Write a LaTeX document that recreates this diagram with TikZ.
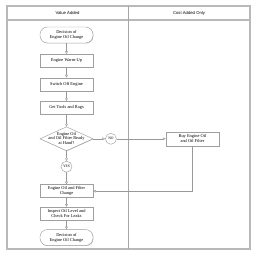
\documentclass[tikz,border=0pt]{standalone}
\usepackage{fontspec}
\setmainfont{Liberation Serif}
\newfontfamily\headfont{Liberation Sans}
\usetikzlibrary{arrows.meta, positioning, shapes.geometric, shadows}

\begin{document}
\begin{tikzpicture}[
  x=0.04cm, y=0.04cm,
  lane/.style={draw=gray!55, line width=1.4pt},
  divider/.style={draw=gray!70, line width=0.8pt},
  proc/.style={rectangle, draw=gray!75, fill=white, line width=0.5pt,
    minimum width=2.12cm, minimum height=0.52cm, align=center, inner sep=1pt,
    font=\fontsize{5}{5.6}\selectfont,
    drop shadow={shadow xshift=0.5pt, shadow yshift=-0.5pt, fill=gray!60, opacity=1}},
  term/.style={proc, rounded corners=0.3cm, minimum height=0.64cm},
  decide/.style={proc, diamond, minimum width=2.12cm, minimum height=0.96cm, inner sep=0pt},
  yesno/.style={circle, draw=gray!75, fill=white, line width=0.5pt, minimum size=0.44cm,
    inner sep=0pt, font=\fontsize{4.2}{4.6}\selectfont},
  head/.style={font=\headfont\fontsize{4.8}{5.2}\selectfont},
  edge/.style={-{Triangle[open, length=1.1mm, width=1.1mm]}, draw=gray!80, line width=0.5pt}
]
\useasboundingbox (0,0) rectangle (256,-256);

% swim lanes
\draw[lane] (7,-6) rectangle (250,-249);
\draw[lane] (7,-20) -- (250,-20);
\draw[divider] (128,-6) -- (128,-249);
\node[head] (valuehd) at (67.5,-13) {Value Added};
\node[head] (costhd) at (189,-13) {Cost Added Only};

% flow
\node[term] (start) at (66.5,-35) {Decision of\\Engine Oil Change};
\node[proc, below=0.44cm of start] (warm) {Engine Warm-Up};
\node[proc, below=0.4cm of warm] (off) {Switch Off Engine};
\node[proc, below=0.4cm of off] (tools) {Get Tools and Rags};
\node[decide, below=0.48cm of tools] (ready) {\smash{\raisebox{-0.3em}{\makebox[0pt]{\begin{tabular}{@{}c@{}}Engine Oil\\and Oil Filter Ready\\at Hand?\end{tabular}}}}};
\node[yesno, below=0.4cm of ready] (yes) {YES};
\node[proc, below=0.48cm of yes] (change) {Engine Oil and Filter\\Change};
\node[proc, below=0.36cm of change] (inspect) {Inspect Oil Level and\\Check For Leaks};
\node[term, below=0.36cm of inspect] (stop) {Decision of\\Engine Oil Change};
\node[yesno, right=0.48cm of ready] (no) {NO};
\node[proc, right=1.96cm of no, minimum height=0.56cm] (buy) {Buy Engine Oil\\and Oil Filter};

\draw[edge] (start) -- (warm);
\draw[edge] (warm) -- (off);
\draw[edge] (off) -- (tools);
\draw[edge] (tools) -- (ready);
\draw[edge] (ready) -- (yes);
\draw[edge] (yes) -- (change);
\draw[edge] (change) -- (inspect);
\draw[edge] (inspect) -- (stop);
\draw[edge] (ready) -- (no);
\draw[edge] (no) -- (buy);
\draw[edge] (buy) |- (change);
\end{tikzpicture}
\end{document}
